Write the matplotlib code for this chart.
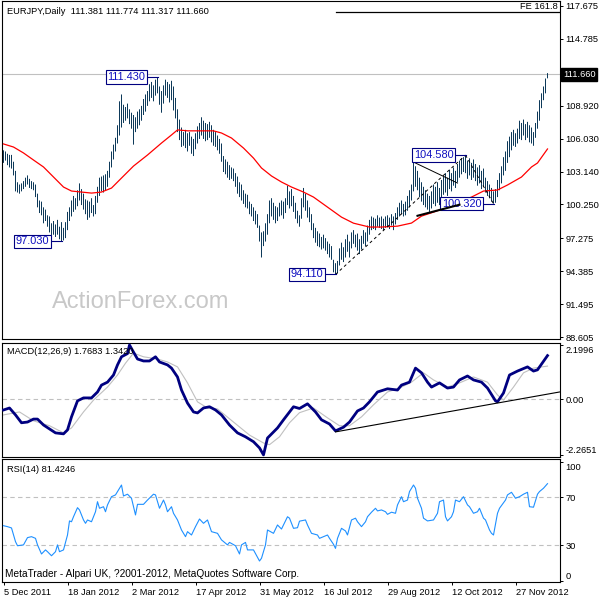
import matplotlib
matplotlib.use('Agg')
import matplotlib.pyplot as plt
import matplotlib.transforms as mtransforms
import numpy as np

plt.rcParams['font.family'] = ['Liberation Sans', 'DejaVu Sans']

# ---------------- data ----------------
symbol = "EURJPY,Daily"
last_ohlc = [111.381, 111.774, 111.317, 111.660]

highs = [105.0,104.9,104.7,104.6,104.6,104.0,103.2,102.2,102.0,102.1,
         102.3,102.6,102.8,102.5,102.3,102.2,102.0,101.2,100.6,100.5,
         100.0,99.8,99.3,99.2,98.6,98.8,98.5,98.9,98.3,98.7,
         98.2,98.7,99.6,100.0,100.6,101.0,100.8,101.5,102.1,101.6,
         101.2,100.7,100.6,100.5,100.8,100.2,101.0,101.8,102.6,102.7,
         102.8,102.9,103.2,104.0,104.9,105.5,106.1,107.2,109.3,109.9,
         109.0,108.8,109.1,108.6,108.3,108.1,107.9,108.4,108.6,108.9,
         109.5,109.9,110.2,110.8,111.0,110.7,111.2,111.43,110.6,110.2,
         110.7,111.2,111.0,110.8,111.1,110.6,109.6,108.6,107.7,107.0,
         106.6,106.8,106.5,106.6,106.2,106.0,106.5,107.1,107.4,107.9,
         107.6,107.4,107.3,107.5,107.2,106.8,106.6,106.3,106.0,105.6,
         104.5,104.2,104.0,103.7,103.5,103.4,103.0,102.7,102.2,102.0,
         101.5,101.2,101.1,100.5,100.3,100.0,99.7,99.4,98.4,97.8,
         97.9,98.6,99.4,100.6,100.8,100.4,100.1,100.0,100.4,100.6,
         100.5,100.8,101.9,101.4,101.6,101.0,100.4,99.7,99.3,100.8,
         101.7,101.2,100.6,100.0,99.4,98.6,98.2,97.9,97.7,97.4,
         97.6,97.3,97.0,96.8,96.6,95.4,95.1,95.3,96.4,96.9,
         96.5,97.2,97.6,97.0,97.8,98.0,97.6,97.7,97.2,97.5,
         98.0,97.8,98.4,98.9,99.2,99.1,99.0,99.3,99.1,99.2,
         99.0,99.2,99.3,99.1,99.4,99.2,99.5,100.0,100.4,100.6,
         100.3,100.5,101.0,101.5,102.0,103.97,103.6,103.2,102.6,102.2,
         101.8,101.5,101.2,101.0,101.4,102.0,101.8,102.2,101.7,102.4,
         102.7,103.0,102.6,103.3,103.0,103.5,103.2,103.8,104.1,104.3,
         104.4,104.58,104.1,104.3,103.9,104.2,103.8,103.5,103.7,103.2,
         103.4,102.6,102.3,102.0,101.7,101.4,101.6,102.4,103.0,103.6,
         104.4,104.9,105.8,106.2,106.6,106.8,106.5,106.9,107.6,107.4,
         107.7,107.3,107.5,107.2,107.0,106.6,107.4,108.4,109.4,110.0,
         110.6,111.3,111.774]

lows = [103.9,104.1,103.7,103.5,103.4,102.8,101.4,101.3,101.2,101.4,
        101.6,101.8,102.0,101.7,101.6,101.5,100.9,100.0,99.5,99.3,
        98.6,98.8,98.3,97.8,97.5,97.6,97.4,97.6,97.2,97.03,
        97.1,97.3,98.0,98.8,99.2,99.6,99.8,100.1,100.6,100.2,
        99.8,99.4,98.9,99.1,99.5,99.2,99.4,100.4,101.0,101.4,
        101.3,101.5,101.8,102.6,103.5,104.2,104.9,105.6,106.3,107.0,
        107.4,107.6,107.8,107.3,106.9,105.5,106.6,106.9,107.2,107.6,
        108.1,108.4,108.9,109.3,109.6,109.3,109.8,110.0,109.0,108.3,
        109.1,109.8,109.6,109.2,109.4,108.5,107.8,106.6,105.9,105.3,
        105.4,105.2,104.9,105.4,104.7,104.5,105.1,105.6,106.0,106.3,
        106.0,105.8,105.9,106.1,105.7,105.4,105.3,105.0,104.7,104.0,
        103.1,102.9,102.6,102.4,102.5,102.3,101.8,101.2,100.9,100.6,
        100.3,100.0,99.9,99.4,99.2,98.8,98.5,98.2,97.0,95.6,
        96.6,97.0,97.6,98.6,99.2,98.9,98.6,98.8,99.2,99.3,
        99.0,99.5,100.2,99.9,100.1,99.6,99.0,98.6,98.3,99.0,
        100.0,99.7,99.1,98.7,98.0,97.3,96.9,96.6,96.5,96.3,
        96.4,96.2,95.9,95.6,95.4,94.3,94.11,94.2,94.9,95.4,
        95.2,95.6,96.1,95.6,96.4,96.8,96.5,96.2,95.9,96.3,
        96.8,96.6,97.0,97.6,98.0,98.1,98.0,98.3,98.2,98.1,
        98.0,98.2,98.3,98.1,98.4,98.0,98.5,98.9,99.2,99.4,
        99.2,99.3,99.7,100.0,100.6,101.4,101.8,101.5,100.9,100.5,
        100.2,100.0,99.8,99.6,99.9,100.3,100.1,100.4,100.2,100.8,
        101.1,101.3,101.0,101.6,101.4,101.9,101.7,102.2,102.6,102.9,
        103.1,103.0,102.5,102.8,102.4,102.6,102.3,101.9,102.1,101.6,
        101.8,101.3,101.0,100.8,100.5,100.32,100.4,100.9,101.5,102.1,
        102.8,103.2,103.9,104.4,105.0,105.4,105.3,105.6,106.0,105.9,
        106.3,105.9,106.1,105.7,105.6,105.4,106.1,106.9,107.6,108.7,
        109.4,110.0,111.317]

ma_idx = [0,5,10,15,20,25,30,34,39,44,49,54,59,65,72,79,84,87,92,105,
          109,114,120,125,129,134,139,144,150,155,162,169,175,183,189,197,204,209,215,222,
          234,240,247,252,259,264,267,272]
ma_val = [105.56,105.29,104.77,104.15,103.54,102.66,101.78,101.43,101.34,101.25,
          101.34,101.69,102.57,103.62,104.59,105.64,106.35,106.79,106.71,106.71,
          106.52,106.08,105.20,104.32,103.45,102.75,102.22,101.78,101.34,100.90,
          100.02,99.14,98.61,98.27,98.27,98.35,98.62,99.23,99.58,100.02,
          100.90,101.43,101.52,101.96,102.66,103.54,103.89,105.12]

macd_idx = [0,3,6,9,12,15,17,20,23,26,30,32,34,37,40,44,47,49,52,55,
            57,59,62,63,65,67,70,73,76,78,82,84,87,89,92,95,97,100,103,106,
            109,113,117,121,125,128,130,132,137,140,145,148,152,156,159,163,166,170,173,177,
            180,183,187,192,197,199,203,206,209,212,214,218,222,225,228,232,235,239,242,246,
            247,250,253,257,262,265,267,272]
macd_val = [-0.44,-0.36,-0.64,-0.96,-0.93,-0.81,-0.81,-1.05,-1.21,-1.37,
            -1.41,-1.25,-0.72,-0.07,0.05,0.05,0.29,0.57,0.69,0.98,
            1.39,1.72,1.85,2.1996,1.91,1.63,1.55,1.55,1.72,1.51,
            1.39,1.26,0.90,0.37,-0.16,-0.52,-0.56,-0.36,-0.31,-0.44,
            -0.64,-1.05,-1.37,-1.53,-1.73,-1.98,-2.2651,-1.58,-1.17,-0.84,
            -0.31,-0.38,-0.19,-0.52,-0.84,-1.01,-1.29,-1.14,-0.93,-0.48,
            -0.36,-0.11,0.29,0.42,0.37,0.57,0.69,1.26,1.07,0.69,
            0.49,0.66,0.45,0.49,0.78,0.94,0.78,0.69,0.45,-0.07,
            -0.11,0.25,0.98,1.14,1.31,1.14,1.19,1.7683]

sig_idx = [0,8,15,23,30,34,40,45,52,57,61,65,70,77,82,87,92,97,102,107,
           115,123,130,133,138,143,148,155,162,168,173,179,185,192,198,204,210,215,222,228,
           235,242,247,250,255,260,265,272]
sig_val = [-0.64,-0.52,-0.88,-1.08,-1.37,-1.17,-0.52,-0.04,0.49,0.98,
           1.46,1.87,1.72,1.63,1.51,1.31,0.66,-0.11,-0.36,-0.40,
           -0.93,-1.46,-1.78,-1.85,-1.53,-0.96,-0.55,-0.36,-0.76,-1.08,
           -1.08,-0.72,-0.23,0.29,0.45,0.69,1.07,0.78,0.49,0.66,
           0.90,0.69,0.17,-0.04,0.49,1.07,1.26,1.3420]

macd_trend_idx = [166, 278]
macd_trend_val = [-1.33, 0.29]

rsi_idx = [0,2,4,6,7,10,12,14,16,17,19,21,22,24,26,27,28,30,32,33,34,35,37,38,40,41,42,44,46,47,
           48,50,51,52,54,56,57,59,60,62,64,66,67,70,72,75,76,78,80,81,82,84,85,87,89,91,92,94,96,98,
           100,102,104,107,109,112,113,116,118,119,121,122,125,128,129,131,132,135,137,139,142,143,145,147,148,151,152,154,157,158,
           160,162,163,165,166,167,169,171,172,174,176,177,179,181,182,184,186,187,189,191,192,194,196,197,199,200,202,203,205,206,
           207,209,210,212,215,217,218,220,221,222,224,225,226,228,230,232,233,235,237,238,240,241,243,244,245,247,248,251,252,254,
           256,258,260,262,263,265,267,268,270,272]
rsi_val = [46.2,45.4,44.3,32.8,29.4,30.1,36.2,37.0,35.6,30.1,22.5,25.9,24.4,21.0,24.4,30.1,24.4,25.9,38.4,50.2,
           49.5,53.7,61.3,59.4,51.0,48.2,51.0,49.5,57.9,66.3,60.8,62.1,57.9,63.6,70.5,72.0,74.8,80.3,71.1,72.6,
           69.2,55.2,64.1,64.1,67.7,72.6,72.0,60.8,67.7,63.6,57.9,62.1,56.6,51.0,42.6,37.0,41.2,38.4,45.4,51.8,
           48.2,51.0,41.2,39.8,34.3,30.1,32.2,29.4,22.5,30.1,32.2,25.9,25.9,16.6,18.9,30.1,42.6,39.8,46.8,43.4,
           53.7,52.5,44.0,44.5,50.0,51.0,46.8,39.8,38.4,35.6,37.0,38.4,35.6,30.6,27.2,35.6,44.0,41.8,38.4,51.0,
           52.5,49.5,45.4,49.5,53.7,57.5,60.8,58.6,59.4,57.9,55.7,57.5,56.6,63.6,70.5,66.3,67.7,74.8,80.3,77.6,
           69.2,60.8,52.5,50.2,51.0,56.6,66.3,67.7,53.7,50.2,53.7,57.9,67.7,66.3,70.5,63.6,62.1,56.6,57.9,60.8,
           52.5,51.0,42.6,39.8,38.4,56.6,60.8,67.7,72.0,74.2,69.2,70.5,72.6,74.2,62.1,61.7,72.6,74.8,77.6,81.4246]

date_idx = [0, 32, 64, 96, 128, 160, 192, 224, 256]
date_labels = ["5 Dec 2011", "18 Jan 2012", "2 Mar 2012", "17 Apr 2012", "31 May 2012",
               "16 Jul 2012", "29 Aug 2012", "12 Oct 2012", "27 Nov 2012"]
price_ticks = [117.675, 114.785, 108.920, 106.030, 103.140, 100.250, 97.275, 94.385, 91.495, 88.605]
macd_ticks = [2.1996, 0.0, -2.2651]
rsi_ticks = [100, 70, 30, 0]
rsi_levels = [70, 30]

swing_idx = [77, 29, 166, 231, 245]
swing_price = [111.43, 97.03, 94.11, 104.58, 100.32]

fe_start_idx = 166
fe_level = 117.15
fe_text = "FE 161.8"
dash_lines = [([166, 231], [94.11, 104.58]), ([231, 245], [104.58, 100.32])]
thin_line = ([205, 227], [103.97, 102.13])
thick_line = ([207, 228], [99.26, 100.23])

# ---------------- figure ----------------
W = H = 600
fig = plt.figure(figsize=(6, 6), dpi=100)
fig.patch.set_facecolor('white')

XL, XR = 1.5, 559.5
def rect(top, bottom):
    return [XL / W, 1 - bottom / H, (XR - XL) / W, (bottom - top) / H]

ax1 = fig.add_axes(rect(1, 339))
ax2 = fig.add_axes(rect(343, 457))
ax3 = fig.add_axes(rect(459, 582))

FS = 6.7
BAR_C = '#0e3a5a'
for ax in (ax1, ax2, ax3):
    ax.set_xlim(-1, 278)
    for s in ax.spines.values():
        s.set_linewidth(0.8)
        s.set_color('black')
    ax.yaxis.tick_right()
    ax.tick_params(axis='y', length=2.5, width=0.7, pad=2, labelsize=FS, colors='black')
    ax.set_facecolor('white')

# --- price panel ---
ax1.set_ylim(88.45, 118.1)
idx = np.arange(len(highs))
fig.text(52 / W, 1 - 308 / H, 'ActionForex.com', fontsize=17, color='#c8c8c8',
         va='baseline', ha='left', zorder=0)
bars = ax1.vlines(idx, lows, highs, color=BAR_C, lw=0.72, zorder=2)
bars.set_snap(False)
ax1.plot(ma_idx, ma_val, color='red', lw=0.9, zorder=3)
ax1.axhline(last_ohlc[3], color='#c0c0c0', lw=0.8, zorder=1)
ax1.plot([fe_start_idx, 278], [fe_level, fe_level], color='black', lw=0.9, zorder=3)
ax1.text(277, fe_level + 0.08, fe_text, ha='right', va='bottom', fontsize=FS, color='black')
for xs, ys in dash_lines:
    ax1.plot(xs, ys, color='black', lw=0.7, ls=(0, (3, 3)), zorder=4)
ax1.plot(*thin_line, color='black', lw=0.7, zorder=4)
ax1.plot(*thick_line, color='black', lw=1.5, zorder=6)
for i, p in zip(swing_idx, swing_price):
    ax1.plot([i - 5, i], [p, p], color='#000080', lw=0.8, zorder=5)
    ax1.text(i - 6, p, f"{p:.3f}", ha='right', va='center', fontsize=7.9, color='#1010c0',
             bbox=dict(boxstyle='square,pad=0.15', fc='white', ec='#000080', lw=0.8), zorder=5)
ax1.set_yticks(price_ticks)
ax1.set_yticklabels([f"{v:.3f}" for v in price_ticks])
ax1.set_xticks([])
tr = mtransforms.blended_transform_factory(ax1.transAxes, ax1.transData)
ax1.text(1.0 + 3.5 / (XR - XL), last_ohlc[3], f"{last_ohlc[3]:.3f}", transform=tr, ha='left', va='center',
         fontsize=FS, color='white', bbox=dict(boxstyle='square,pad=0.2', fc='black', ec='black'), zorder=10,
         clip_on=False)

fig.text(7 / W, 1 - 11 / H, f"{symbol}  " + " ".join(f"{v:.3f}" for v in last_ohlc),
         fontsize=FS, va='center', ha='left')

# --- MACD panel ---
ax2.set_ylim(-2.35, 2.28)
ax2.axhline(0, color='#c0c0c0', lw=0.8, ls=(0, (4, 3)), zorder=1)
ax2.plot(sig_idx, sig_val, color='#c0c0c0', lw=0.8, zorder=2)
ax2.plot(macd_idx, macd_val, color='#000080', lw=2.0, zorder=3)
ax2.plot(macd_trend_idx, macd_trend_val, color='black', lw=0.8, zorder=4)
ax2.set_xticks([])
ax2.set_yticks(macd_ticks)
ax2.set_yticklabels(['2.1996', '0.00', '-2.2651'])
fig.text(7 / W, 1 - 351 / H, f"MACD(12,26,9) {macd_val[-1]:.4f} {sig_val[-1]:.4f}",
         fontsize=FS, va='center', ha='left')

# --- RSI panel ---
ax3.set_ylim(-1.0, 102.1)
for lv in rsi_levels:
    ax3.axhline(lv, color='#c0c0c0', lw=0.8, ls=(0, (4, 3)), zorder=1)
ax3.plot(rsi_idx, rsi_val, color='#1e90ff', lw=0.8, zorder=3)
ax3.set_yticks(rsi_ticks)
ax3.set_yticklabels([str(v) for v in rsi_ticks])
ax3.set_xticks(date_idx)
ax3.set_xticklabels(date_labels)
ax3.tick_params(axis='x', length=2.5, width=0.7, pad=1.5, labelsize=FS, direction='out')
for lbl in ax3.get_xticklabels():
    lbl.set_ha('left')
fig.text(5 / W, 1 - 574 / H, "MetaTrader - Alpari UK, ?2001-2012, MetaQuotes Software Corp.",
         fontsize=7.3, va='center', ha='left')
fig.text(7 / W, 1 - 470 / H, f"RSI(14) {rsi_val[-1]:.4f}", fontsize=FS, va='center', ha='left')

# MetaTrader draws the top/bottom scale labels just inside the window
down = mtransforms.ScaledTranslation(0, -5 / 100, fig.dpi_scale_trans)
up = mtransforms.ScaledTranslation(0, 5 / 100, fig.dpi_scale_trans)
for ax in (ax2, ax3):
    labs = ax.get_yticklabels()
    labs[0].set_transform(labs[0].get_transform() + down)
    labs[-1].set_transform(labs[-1].get_transform() + up)

fig.savefig('out.png', dpi=100, facecolor='white')
